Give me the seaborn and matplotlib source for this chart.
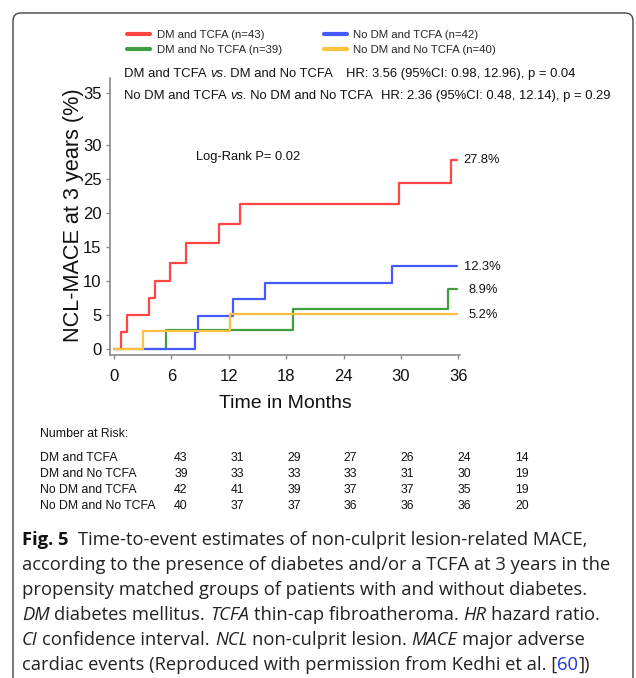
import numpy as np
import pandas as pd
import seaborn as sns
import matplotlib
matplotlib.use("Agg")
import matplotlib.pyplot as plt
from matplotlib.lines import Line2D
from matplotlib.patches import FancyBboxPatch

# ---------------- data ----------------
groups = ["DM and TCFA", "DM and No TCFA", "No DM and TCFA", "No DM and No TCFA"]
n_patients = [43, 39, 42, 40]

# step times (months) and cumulative incidence (%) reached at each time
dm_tcfa_t = [0, 0.70, 1.32, 3.62, 4.29, 5.85, 7.56, 10.98, 13.17, 29.83, 35.23, 35.9]
dm_tcfa_y = [0, 2.5, 5.0, 7.6, 10.0, 12.7, 15.6, 18.4, 21.3, 24.5, 27.8, 27.8]
dm_notcfa_t = [0, 5.47, 18.75, 34.90, 35.9]
dm_notcfa_y = [0, 2.9, 5.9, 8.9, 8.9]
nodm_tcfa_t = [3.07, 8.50, 8.82, 12.44, 15.79, 29.03, 35.9]
nodm_tcfa_y = [0, 2.5, 4.9, 7.4, 9.8, 12.3, 12.3]
nodm_notcfa_t = [0, 3.07, 12.13, 35.9]
nodm_notcfa_y = [0, 2.7, 5.2, 5.2]

final_labels = ["27.8%", "8.9%", "12.3%", "5.2%"]

x_ticks = [0, 6, 12, 18, 24, 30, 36]
y_tick_labels = ["0", "5", "10", "15", "20", "25", "30", "35"]

risk_dm_tcfa = [43, 31, 29, 27, 26, 24, 14]
risk_dm_notcfa = [39, 33, 33, 33, 31, 30, 19]
risk_nodm_tcfa = [42, 41, 39, 37, 37, 35, 19]
risk_nodm_notcfa = [40, 37, 37, 36, 36, 36, 20]

hr_lines = [
    ("DM and TCFA", "DM and No TCFA", "HR: 3.56 (95%CI: 0.98, 12.96), p = 0.04"),
    ("No DM and TCFA", "No DM and No TCFA", "HR: 2.36 (95%CI: 0.48, 12.14), p = 0.29"),
]
logrank = "Log-Rank P= 0.02"

# ---------------- style ----------------
W, H = 636, 678
colors = ["#ff4545", "#3f9f3f", "#4858ff", "#ffbf3f"]
sns.set_theme(style="white")
plt.rcParams["font.family"] = ["Liberation Sans", "DejaVu Sans"]

fig = plt.figure(figsize=(W / 100, H / 100), dpi=100)
renderer = fig.canvas.get_renderer()

def fx(x):
    return x / W

def fy(y):
    return 1 - y / H

# axes box in pixels: left 110, right 460, top 78, bottom 355
ax = fig.add_axes([fx(110), fy(355), 350 / W, 277 / H])

frames = []
for g, tt, yy in zip(groups,
                     [dm_tcfa_t, dm_notcfa_t, nodm_tcfa_t, nodm_notcfa_t],
                     [dm_tcfa_y, dm_notcfa_y, nodm_tcfa_y, nodm_notcfa_y]):
    frames.append(pd.DataFrame({"t": tt, "y": yy, "group": g}))
df = pd.concat(frames, ignore_index=True)

sns.lineplot(data=df, x="t", y="y", hue="group", hue_order=groups,
             palette=colors, drawstyle="steps-post", estimator=None,
             sort=False, legend=False, linewidth=1.6, ax=ax)

ax.set_xlim(-0.42, 36.18)
ax.set_ylim(-0.84, 39.9)
ax.set_xticks(x_ticks)
ax.set_xticklabels([str(v) for v in x_ticks])
ax.set_yticks([0, 5, 10, 15, 20, 25, 30, 37.7])
ax.set_yticklabels(y_tick_labels)
ax.tick_params(axis="both", which="major", direction="out", length=3,
               width=1, color="#8a8a8a", labelsize=12, labelcolor="#111111",
               bottom=True, left=True)
ax.tick_params(axis="x", pad=7)
ax.tick_params(axis="y", pad=3)
for s in ["top", "right"]:
    ax.spines[s].set_visible(False)
for s in ["left", "bottom"]:
    ax.spines[s].set_color("#8a8a8a")
    ax.spines[s].set_linewidth(1.2)

ax.set_xlabel("Time in Months", fontsize=14, color="#111111", va="center")
ax.xaxis.set_label_coords(0.5, (355 - 403) / 277)
ax.set_ylabel("NCL-MACE at 3 years (%)", fontsize=15.6, color="#111111", va="center")
ax.yaxis.set_label_coords((74 - 110) / 350, (355 - 215) / 277)

# end labels
end_vals = [dm_tcfa_y[-1], dm_notcfa_y[-1], nodm_tcfa_y[-1], nodm_notcfa_y[-1]]
end_dx = [3, 9, 4, 9]
end_dy = [0, -1, -1.5, -1]
for lab, v, dx, dy in zip(final_labels, end_vals, end_dx, end_dy):
    ax.annotate(lab, xy=(36.18, v), xytext=(dx * 0.72, dy * 0.72),
                textcoords="offset points", fontsize=9.3, color="#111111",
                ha="left", va="center", annotation_clip=False)

ax.text((196 - 110) / 350, (355 - 157) / 277, logrank,
        transform=ax.transAxes, fontsize=9.3, color="#111111",
        ha="left", va="center")

# legend
handles = [Line2D([], [], color=c, lw=3) for c in colors]
labels = [f"{g} (n={n})" for g, n in zip(groups, n_patients)]
fig.legend(handles, labels, ncol=2, loc="upper left",
           bbox_to_anchor=(fx(127), fy(30)), frameon=False, fontsize=8.2,
           handlelength=2.05, handletextpad=0.55, columnspacing=3.7,
           labelspacing=0.45, borderpad=0, borderaxespad=0)

# ---------------- chained text helper ----------------
def width_of(s, **kw):
    t = fig.text(0, 0, s, **kw)
    w = t.get_window_extent(renderer).width
    t.remove()
    return w

def space_w(**kw):
    return width_of("a a", **kw) - width_of("aa", **kw)

def chain(x, y_base, pieces, base):
    cx = x
    for s, extra in pieces:
        kw = dict(base)
        kw.update(extra)
        sw = space_w(**kw)
        lead = len(s) - len(s.lstrip(" "))
        trail = len(s) - len(s.rstrip(" "))
        core = s.strip(" ")
        cx += lead * sw
        t = fig.text(fx(cx), fy(y_base), core, ha="left", va="baseline", **kw)
        cx = t.get_window_extent(renderer).x1 + trail * sw
    return cx

hr_base = dict(fontsize=9.4, color="#111111", family=["Liberation Sans", "DejaVu Sans"])
hr_gap = [13, 8]
for (a, b, hr), yb, gap in zip(hr_lines, [77, 99], hr_gap):
    end = chain(124, yb, [(a + " ", {}), ("vs", {"style": "italic"}), (". " + b, {})], hr_base)
    fig.text(fx(end + gap), fy(yb), hr, ha="left", va="baseline", **hr_base)

# ---------------- number at risk ----------------
fig.text(fx(40), fy(437), "Number at Risk:", fontsize=8.8, color="#111111",
         ha="left", va="baseline")
col_x = [181, 237.5, 294, 350.5, 407.5, 464, 522]
rows = [risk_dm_tcfa, risk_dm_notcfa, risk_nodm_tcfa, risk_nodm_notcfa]
for i, (g, vals) in enumerate(zip(groups, rows)):
    yb = 461 + i * 16
    fig.text(fx(40), fy(yb), g, fontsize=8.8, color="#111111", ha="left", va="baseline")
    for cx, v in zip(col_x, vals):
        fig.text(fx(cx), fy(yb), str(v), fontsize=8.8, color="#111111",
                 ha="center", va="baseline")

# ---------------- caption ----------------
cap_family = ["Open Sans", "DejaVu Sans"]
ref_line = "according to the presence of diabetes and/or a TCFA at 3 years in the"
w10 = width_of(ref_line, fontsize=10, family=cap_family)
cap_size = 10 * 588 / w10
cap_base = dict(fontsize=cap_size, color="#222222", family=cap_family)
it = {"style": "italic"}
caption = [
    [("Fig. 5", {"weight": "bold", "color": "#111111"}),
     ("  Time-to-event estimates of non-culprit lesion-related MACE,", {})],
    [(ref_line, {})],
    [("propensity matched groups of patients with and without diabetes.", {})],
    [("DM", it), (" diabetes mellitus. ", {}), ("TCFA", it),
     (" thin-cap fibroatheroma. ", {}), ("HR", it), (" hazard ratio.", {})],
    [("CI", it), (" confidence interval. ", {}), ("NCL", it),
     (" non-culprit lesion. ", {}), ("MACE", it), (" major adverse", {})],
    [("cardiac events (Reproduced with permission from Kedhi et al. [", {}),
     ("60", {"color": "#2233dd"}), ("])", {})],
]
for i, line in enumerate(caption):
    chain(22, 545 + i * 25.0, line, cap_base)

# border
border = FancyBboxPatch((fx(13), fy(720)), fx(633) - fx(13), fy(13) - fy(720),
                        boxstyle="round,pad=0,rounding_size=0.012",
                        transform=fig.transFigure, facecolor="none",
                        edgecolor="#444444", linewidth=1.0, clip_on=True)
fig.patches.append(border)

fig.savefig("out.png", dpi=100)
